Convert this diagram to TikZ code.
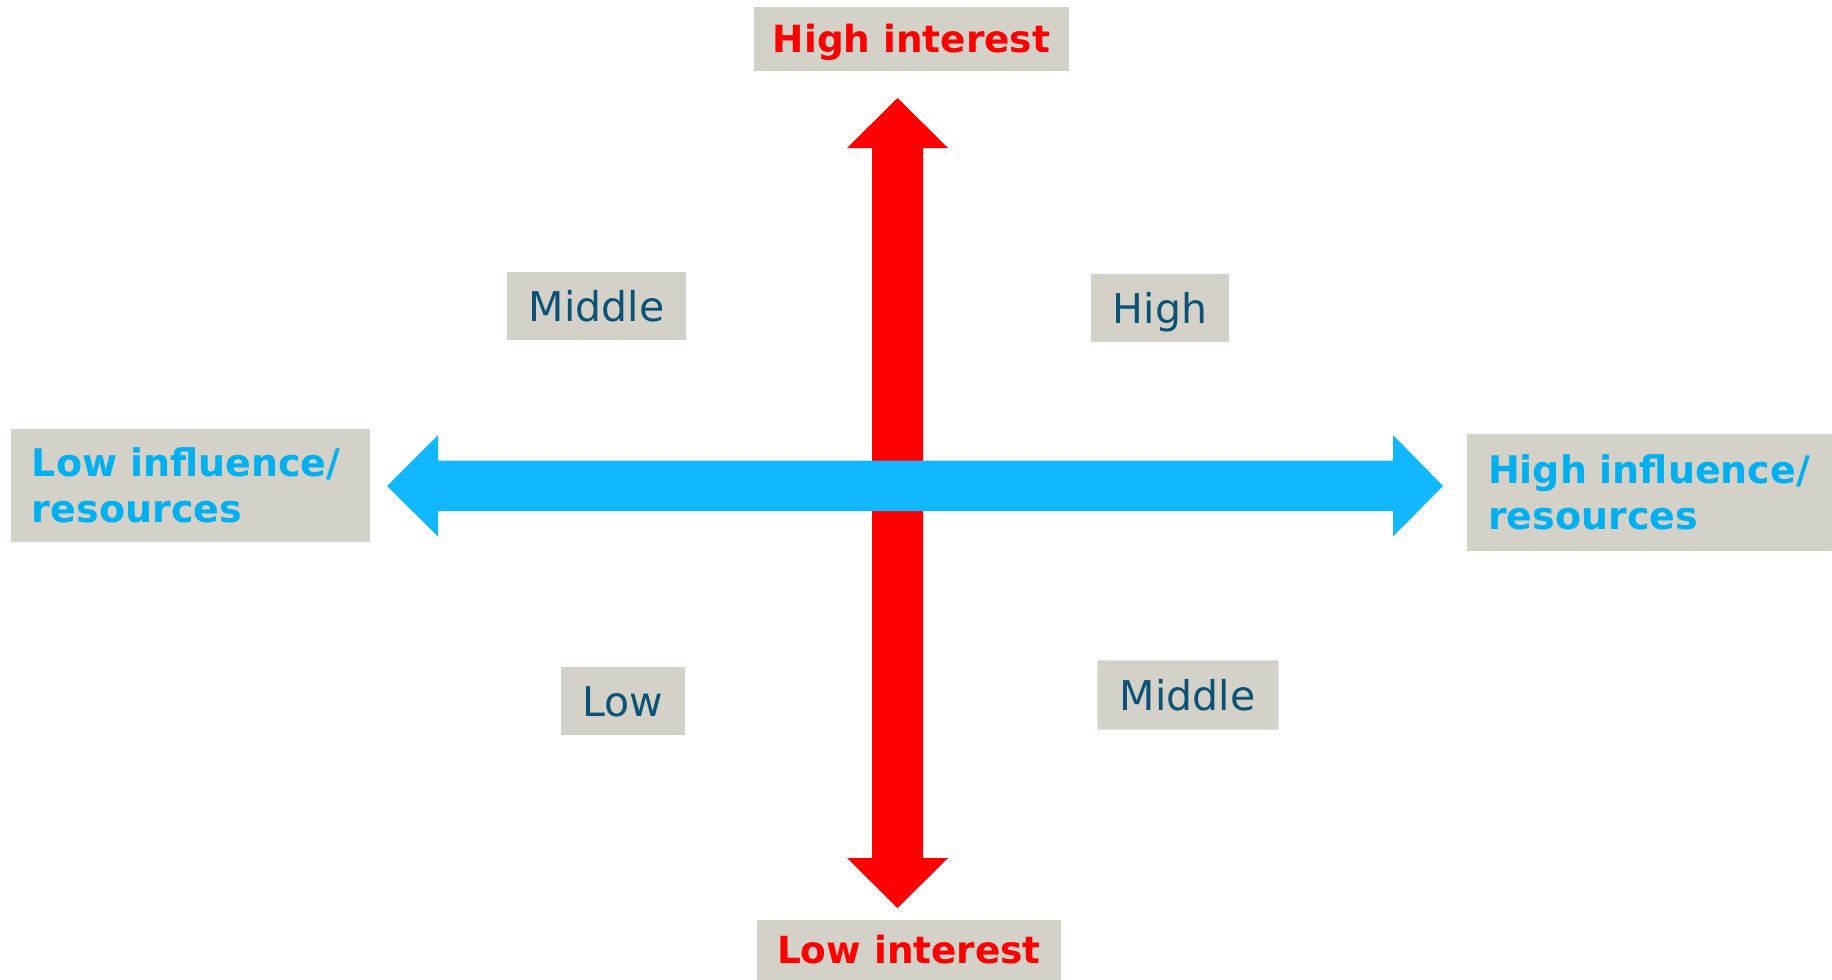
\documentclass[tikz,border=0pt]{standalone}
\usepackage{fontspec}
\setmainfont{DejaVu Sans}
\definecolor{boxfill}{HTML}{D4D1C8}
\definecolor{arrred}{HTML}{FF0000}
\definecolor{arrblue}{HTML}{12B8FD}
\definecolor{txtblue}{HTML}{00B0F0}
\definecolor{txtdark}{HTML}{0C5274}
\begin{document}
\begin{tikzpicture}[x=0.5pt,y=-0.5pt,
  box/.style={fill=boxfill, inner sep=0pt, anchor=center},
  quad/.style={box, text=txtdark, font=\fontsize{20.5}{24}\selectfont, text height=15pt, text depth=0pt},
  axisred/.style={box, text=arrred, font=\fontsize{18.7}{23}\selectfont\bfseries, text height=13.7pt, text depth=0pt},
  axisblue/.style={box, text=txtblue, font=\fontsize{19}{23}\selectfont\bfseries, align=left, inner xsep=10.5pt}]
\useasboundingbox (0,0) rectangle (1832,980);
% red vertical arrow
\fill[arrred] (897.5,98) -- (948,148) -- (923,148) -- (923,858) -- (948,858) -- (897.5,908)
  -- (847,858) -- (872,858) -- (872,148) -- (847,148) -- cycle;
% blue horizontal arrow
\fill[arrblue] (387,486) -- (438,435) -- (438,460.5) -- (1393,460.5) -- (1393,435) -- (1443,486)
  -- (1393,536.5) -- (1393,511) -- (438,511) -- (438,536.5) -- cycle;
% axis labels
\node[axisred, minimum width=157.5pt, minimum height=32pt] (hint) at (911.5,39) {High interest};
\node[axisred, minimum width=152pt, minimum height=30pt] (lint) at (909,950) {Low interest};
\node[axisblue, minimum width=179.5pt, minimum height=56.5pt, text width=158.5pt] (linf) at (190.5,485.5) {Low influence/\\resources};
\node[axisblue, minimum width=182.5pt, minimum height=58.5pt, text width=161.5pt] (hinf) at (1649.5,492.5) {High influence/\\resources};
% quadrant labels
\node[quad, minimum width=89.5pt, minimum height=34pt] (qtl) at (596.5,306) {Middle};
\node[quad, minimum width=69pt, minimum height=34pt] (qtr) at (1160,308) {High};
\node[quad, minimum width=62pt, minimum height=34pt] (qbl) at (623,701) {Low};
\node[quad, minimum width=90.5pt, minimum height=34.5pt, draw=boxfill!60, line width=0.5pt] (qbr) at (1187.5,695) {Middle};
\end{tikzpicture}
\end{document}
